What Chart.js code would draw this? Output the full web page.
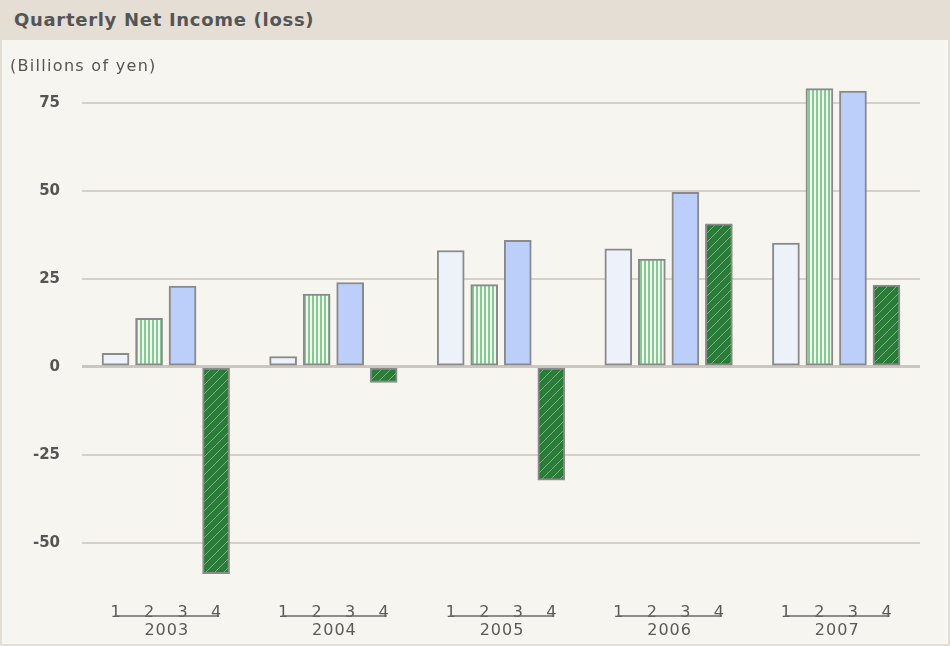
<!DOCTYPE html>
<html>
<head>
<meta charset="utf-8">
<script src="https://cdn.jsdelivr.net/npm/chart.js@4.4.1/dist/chart.umd.min.js"></script>
<style>
  html, body { margin: 0; padding: 0; background: #f7f5ef; }
  #wrap { position: relative; width: 950px; height: 646px; overflow: hidden; background: #f7f5ef; }
  #hdr { position: absolute; left: 0; top: 0; width: 950px; height: 40px; background: #e4ded5; }
  #hdr span { position: absolute; left: 14px; top: 11px; font: bold 18px "DejaVu Sans", sans-serif; line-height: 18px; letter-spacing: 0.7px; color: #555; white-space: nowrap; }
  #unit { position: absolute; left: 10px; top: 58px; font: 16px "DejaVu Sans", sans-serif; line-height: 16px; letter-spacing: 1.3px; color: #555; white-space: nowrap; }
  #c { position: absolute; left: 0; top: 40px; }
  #frame { position: absolute; left: 0; top: 40px; width: 950px; height: 606px; box-sizing: border-box; border: 2px solid #e4ded5; border-top: none; pointer-events: none; }
</style>
</head>
<body>
<div id="wrap">
  <div id="hdr"><span>Quarterly Net Income (loss)</span></div>
  <canvas id="c" width="950" height="606"></canvas>
  <div id="unit">(Billions of yen)</div>
  <div id="frame"></div>
</div>
<script>
// ---- data (billions of yen) ----
const years = ['2003', '2004', '2005', '2006', '2007'];
const quarters = ['1', '2', '3', '4'];
const q1Income = [3.8, 2.9, 33.0, 33.5, 35.1];
const q2Income = [13.7, 20.6, 23.3, 30.6, 79.0];
const q3Income = [22.9, 23.9, 35.9, 49.5, 78.3];
const q4Income = [-58.8, -4.5, -32.2, 40.6, 23.2];
const yTicks = [-50, -25, 0, 25, 50, 75];

const canvas = document.getElementById('c');
const mainCtx = canvas.getContext('2d');

function stripePattern() {
  const c = document.createElement('canvas');
  c.width = 4; c.height = 4;
  const g = c.getContext('2d');
  g.fillStyle = '#eef6ee'; g.fillRect(0, 0, 4, 4);
  g.fillStyle = '#86c995'; g.fillRect(0, 0, 2, 4);
  return mainCtx.createPattern(c, 'repeat');
}
function hatchPattern() {
  const n = 9;
  const c = document.createElement('canvas');
  c.width = n; c.height = n;
  const g = c.getContext('2d');
  g.fillStyle = '#2b7c38'; g.fillRect(0, 0, n, n);
  g.fillStyle = '#74b27f';
  for (let i = 0; i < n; i++) g.fillRect(i, n - 1 - i, 1, 1);
  return mainCtx.createPattern(c, 'repeat');
}

const series = [q1Income, q2Income, q3Income, q4Income];
const fills = ['#edf1f9', stripePattern(), '#bccefa', hatchPattern()];
const slotsPerYear = quarters.length + 1; // one empty slot between years

const datasets = series.map((vals, q) => ({
  label: 'Q' + quarters[q],
  data: vals.map((v, yi) => ({ x: yi * slotsPerYear + q, y: v })),
  backgroundColor: fills[q],
  borderColor: '#8a8a8a',
  borderWidth: 2,
  borderSkipped: false,
  barThickness: 27,
  grouped: false
}));

const quarterTickValues = [];
years.forEach((y, yi) => quarters.forEach((q, qi) => quarterTickValues.push(yi * slotsPerYear + qi)));

const yearLabels = {
  id: 'yearLabels',
  afterDraw(chart) {
    const xs = chart.scales.x;
    const ctx = chart.ctx;
    const base = chart.chartArea.bottom;
    ctx.save();
    ctx.strokeStyle = '#6a6a6a';
    ctx.lineWidth = 1.5;
    ctx.fillStyle = '#5a5a5a';
    ctx.font = '16px "DejaVu Sans", sans-serif';
    ctx.textAlign = 'center';
    ctx.textBaseline = 'middle';
    try { ctx.letterSpacing = '1px'; } catch (e) {}
    years.forEach((yr, yi) => {
      const a = xs.getPixelForValue(yi * slotsPerYear);
      const b = xs.getPixelForValue(yi * slotsPerYear + quarters.length - 1);
      ctx.beginPath();
      ctx.moveTo(a - 1, base + 24);
      ctx.lineTo(b + 3, base + 24);
      ctx.stroke();
      ctx.fillText(yr, (a + b) / 2 + 1, base + 39);
    });
    ctx.restore();
  }
};

new Chart(canvas, {
  type: 'bar',
  data: { datasets },
  plugins: [yearLabels],
  options: {
    responsive: false,
    animation: false,
    devicePixelRatio: 1,
    layout: { padding: { top: 38, right: 30, bottom: 0, left: 0 } },
    plugins: { legend: { display: false }, tooltip: { enabled: false }, title: { display: false } },
    scales: {
      x: {
        type: 'linear',
        offset: false,
        min: -1,
        max: years.length * slotsPerYear - 1,
        grid: { display: false, offset: false },
        border: { display: false },
        afterFit(s) { s.height = 54; },
        afterBuildTicks(s) { s.ticks = quarterTickValues.map(v => ({ value: v })); },
        ticks: {
          padding: 3,
          autoSkip: false,
          maxRotation: 0,
          color: '#5a5a5a',
          font: { family: '"DejaVu Sans", sans-serif', size: 16 },
          callback: (v) => quarters[((v % slotsPerYear) + slotsPerYear) % slotsPerYear]
        }
      },
      y: {
        min: -64,
        max: 82,
        afterFit(s) { s.width = 82; },
        afterBuildTicks(s) { s.ticks = yTicks.map(v => ({ value: v })); },
        border: { display: false },
        grid: {
          drawTicks: false,
          color: (c) => c.tick && c.tick.value === 0 ? '#cbc7c0' : '#d5d1ca',
          lineWidth: (c) => c.tick && c.tick.value === 0 ? 3 : 2
        },
        ticks: {
          padding: 22,
          color: '#555',
          font: { family: '"DejaVu Sans", sans-serif', size: 15, weight: 'bold' }
        }
      }
    }
  }
});
</script>
</body>
</html>
